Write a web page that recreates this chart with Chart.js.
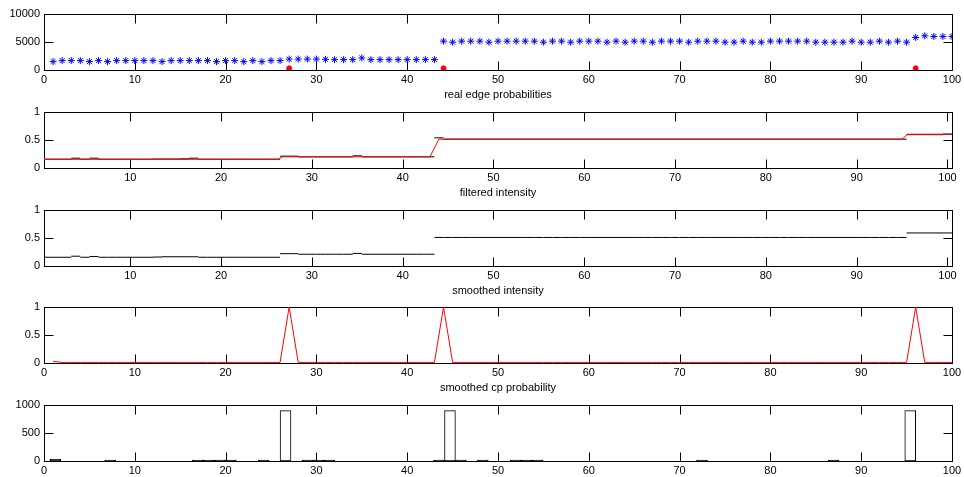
<!DOCTYPE html>
<html>
<head>
<meta charset="utf-8">
<script src="https://cdn.jsdelivr.net/npm/chart.js@4.4.1/dist/chart.umd.min.js"></script>
<style>
    html, body { margin: 0; padding: 0; background: #fff; }
    #fig { position: relative; width: 964px; height: 477px; overflow: hidden; background: #fff; }
    #fig canvas { position: absolute; left: 0; }
</style>
</head>
<body>
<div id="fig">
    <canvas id="p1" width="964" height="112" style="top:0px"></canvas>
    <canvas id="p2" width="964" height="112" style="top:98px"></canvas>
    <canvas id="p3" width="964" height="112" style="top:196px"></canvas>
    <canvas id="p4" width="964" height="112" style="top:293px"></canvas>
    <canvas id="p5" width="964" height="112" style="top:391px"></canvas>
</div>
<script>
// sample index (pixel number along the signal)
const samples = [
    1, 2, 3, 4, 5, 6, 7, 8, 9, 10, 11, 12, 13, 14, 15, 16, 17, 18, 19, 20,
    21, 22, 23, 24, 25, 26, 27, 28, 29, 30, 31, 32, 33, 34, 35, 36, 37, 38, 39, 40,
    41, 42, 43, 44, 45, 46, 47, 48, 49, 50, 51, 52, 53, 54, 55, 56, 57, 58, 59, 60,
    61, 62, 63, 64, 65, 66, 67, 68, 69, 70, 71, 72, 73, 74, 75, 76, 77, 78, 79, 80,
    81, 82, 83, 84, 85, 86, 87, 88, 89, 90, 91, 92, 93, 94, 95, 96, 97, 98, 99, 100
];

// panel 1: real edge probabilities
const edgeProb = [
    1500, 1680, 1680, 1680, 1500, 1680, 1500, 1680, 1680, 1680,
    1680, 1680, 1500, 1680, 1680, 1680, 1680, 1680, 1500, 1680,
    1680, 1500, 1680, 1500, 1680, 1680, 1950, 1950, 1950, 1950,
    1900, 1850, 1850, 1850, 2150, 1850, 1850, 1850, 1850, 1850,
    1850, 1850, 1850, 5150, 4970, 5150, 5150, 5150, 4970, 5150,
    5150, 5150, 5150, 5150, 4970, 5150, 5150, 4970, 5150, 5150,
    5150, 4970, 5150, 4970, 5150, 5150, 4970, 5150, 5150, 5150,
    4970, 5150, 5150, 5150, 4970, 4970, 5150, 4970, 4970, 5150,
    5150, 5150, 5150, 5150, 4970, 4970, 4970, 4970, 5150, 4970,
    4970, 5150, 4970, 5150, 4970, 5810, 6100, 5990, 5990, 5990
];
const edgeX = [27, 44, 96];
const edgeY = [300, 300, 300];

// panel 2: filtered intensity (black per-pixel) and fitted level (red)
const filtered = [
    0.155, 0.155, 0.155, 0.175, 0.155, 0.175, 0.155, 0.155, 0.155, 0.155,
    0.155, 0.155, 0.160, 0.160, 0.160, 0.165, 0.175, 0.155, 0.155, 0.155,
    0.155, 0.155, 0.155, 0.155, 0.155, 0.155, 0.210, 0.210, 0.200, 0.200,
    0.200, 0.200, 0.200, 0.200, 0.220, 0.200, 0.200, 0.200, 0.200, 0.200,
    0.200, 0.200, 0.200, 0.540, 0.515, 0.515, 0.515, 0.515, 0.515, 0.515,
    0.515, 0.515, 0.515, 0.515, 0.515, 0.515, 0.515, 0.515, 0.515, 0.515,
    0.515, 0.515, 0.515, 0.515, 0.515, 0.515, 0.515, 0.515, 0.515, 0.515,
    0.515, 0.515, 0.515, 0.515, 0.515, 0.515, 0.515, 0.515, 0.515, 0.515,
    0.515, 0.515, 0.515, 0.515, 0.515, 0.515, 0.515, 0.515, 0.515, 0.515,
    0.515, 0.515, 0.515, 0.515, 0.515, 0.600, 0.600, 0.600, 0.600, 0.605
];
const fitX = [0.5, 26.3, 26.8, 43, 44, 95, 95.6, 100.5];
const fitY = [0.155, 0.155, 0.2, 0.2, 0.515, 0.515, 0.6, 0.6];

// panel 3: smoothed intensity
const smoothed = [
    0.156, 0.156, 0.156, 0.175, 0.156, 0.170, 0.156, 0.156, 0.156, 0.156,
    0.156, 0.156, 0.160, 0.165, 0.165, 0.165, 0.165, 0.156, 0.156, 0.156,
    0.156, 0.156, 0.156, 0.156, 0.156, 0.156, 0.220, 0.220, 0.210, 0.210,
    0.210, 0.210, 0.210, 0.210, 0.225, 0.210, 0.210, 0.210, 0.210, 0.210,
    0.210, 0.210, 0.210, 0.510, 0.510, 0.510, 0.510, 0.510, 0.510, 0.510,
    0.510, 0.510, 0.510, 0.510, 0.510, 0.510, 0.510, 0.510, 0.510, 0.510,
    0.510, 0.510, 0.510, 0.510, 0.510, 0.510, 0.510, 0.510, 0.510, 0.510,
    0.510, 0.510, 0.510, 0.510, 0.510, 0.510, 0.510, 0.510, 0.510, 0.510,
    0.510, 0.510, 0.510, 0.510, 0.510, 0.510, 0.510, 0.510, 0.510, 0.510,
    0.510, 0.510, 0.510, 0.510, 0.510, 0.590, 0.590, 0.590, 0.590, 0.590
];

// panel 4: smoothed change-point probability
const cpProb = [
    0.03, 0.01, 0.01, 0.01, 0.01, 0.01, 0.01, 0.01, 0.01, 0.01,
    0.01, 0.01, 0.01, 0.01, 0.01, 0.01, 0.01, 0.01, 0.01, 0.01,
    0.01, 0.01, 0.01, 0.01, 0.01, 0.01, 1.00, 0.01, 0.01, 0.01,
    0.01, 0.01, 0.01, 0.01, 0.01, 0.01, 0.01, 0.01, 0.01, 0.01,
    0.01, 0.01, 0.01, 1.00, 0.01, 0.01, 0.01, 0.01, 0.01, 0.01,
    0.01, 0.01, 0.01, 0.01, 0.01, 0.01, 0.01, 0.01, 0.01, 0.01,
    0.01, 0.01, 0.01, 0.01, 0.01, 0.01, 0.01, 0.01, 0.01, 0.01,
    0.01, 0.01, 0.01, 0.01, 0.01, 0.01, 0.01, 0.01, 0.01, 0.01,
    0.01, 0.01, 0.01, 0.01, 0.01, 0.01, 0.01, 0.01, 0.01, 0.01,
    0.01, 0.01, 0.01, 0.01, 0.01, 1.00, 0.01, 0.01, 0.01, 0.01
];

// panel 5: histogram (non-empty bins only)
const histCenters = [1.25, 7.29, 16.94, 18.15, 19.36, 20.57, 24.19, 26.60, 29.01, 30.22,
    31.43, 43.50, 44.71, 45.91, 48.33, 51.95, 53.16, 54.36, 72.47, 86.95, 95.40];
const histCounts = [30, 18, 18, 18, 18, 18, 18, 900, 18, 18,
    18, 18, 900, 18, 18, 18, 18, 18, 18, 18, 900];

// tick values
const xTicksFull = [0, 10, 20, 30, 40, 50, 60, 70, 80, 90, 100];
const xTicksInner = [10, 20, 30, 40, 50, 60, 70, 80, 90, 100];
const yTicksEdge = [0, 5000, 10000];
const yTicksUnit = [0, 0.5, 1];
const yTicksHist = [0, 500, 1000];

const FONT = "'Liberation Sans', Arial, Helvetica, sans-serif";
const TICK_LEN = 9;

Chart.defaults.font.family = FONT;
Chart.defaults.font.size = 11;
Chart.defaults.color = '#000';

// MATLAB-style box with inward ticks on all four sides
const matlabBox = {
    id: 'matlabBox',
    beforeDatasetsDraw(chart) {
        const ctx = chart.ctx;
        const a = chart.chartArea;
        const xs = chart.scales.x;
        const ys = chart.scales.y;
        const L = a.left + 0.5, R = a.right + 0.5, T = a.top + 0.5, B = a.bottom + 0.5;
        ctx.save();
        ctx.strokeStyle = '#000';
        ctx.lineWidth = 1;
        ctx.strokeRect(L, T, R - L, B - T);
        ctx.beginPath();
        xs.ticks.forEach(function (t) {
            const px = Math.round(xs.getPixelForValue(t.value)) + 0.5;
            ctx.moveTo(px, B); ctx.lineTo(px, B - TICK_LEN);
            ctx.moveTo(px, T); ctx.lineTo(px, T + TICK_LEN);
        });
        ys.ticks.forEach(function (t) {
            const py = Math.round(ys.getPixelForValue(t.value)) + 0.5;
            ctx.moveTo(L, py); ctx.lineTo(L + TICK_LEN, py);
            ctx.moveTo(R, py); ctx.lineTo(R - TICK_LEN, py);
        });
        ctx.stroke();
        ctx.restore();
    }
};

function points(xv, yv) {
    return xv.map(function (x, i) { return { x: x, y: yv[i] }; });
}

// one short horizontal segment per pixel, broken between pixels
function pixelSegments(xv, yv) {
    const out = [];
    xv.forEach(function (x, i) {
        out.push({ x: x - 0.5, y: yv[i] });
        out.push({ x: x + 0.5, y: yv[i] });
        out.push({ x: x + 0.5, y: null });
    });
    return out;
}

function makePanel(id, type, datasets, xr, xTicks, yr, yTicks, title) {
    const ctx = document.getElementById(id).getContext('2d');
    return new Chart(ctx, {
        type: type,
        data: { datasets: datasets },
        plugins: [matlabBox],
        options: {
            responsive: false,
            animation: false,
            layout: { padding: { top: 14, right: 12, bottom: 10, left: 0 } },
            plugins: { legend: { display: false }, tooltip: { enabled: false } },
            elements: { line: { tension: 0 } },
            scales: {
                x: {
                    type: 'linear',
                    min: xr[0],
                    max: xr[1],
                    offset: false,
                    grid: { display: false, drawTicks: false },
                    border: { display: false },
                    afterBuildTicks: function (s) { s.ticks = xTicks.map(function (v) { return { value: v }; }); },
                    afterFit: function (s) { s.height = 32; s.paddingLeft = 0; s.paddingRight = 0; },
                    ticks: {
                        padding: 3,
                        maxRotation: 0,
                        autoSkip: false,
                        callback: function (v) { return String(v); }
                    },
                    title: {
                        display: !!title,
                        text: title || '',
                        padding: { top: 0, bottom: 0 }
                    }
                },
                y: {
                    type: 'linear',
                    min: yr[0],
                    max: yr[1],
                    grid: { display: false, drawTicks: false },
                    border: { display: false },
                    afterBuildTicks: function (s) { s.ticks = yTicks.map(function (v) { return { value: v }; }); },
                    afterFit: function (s) { s.width = 44; s.paddingTop = 0; s.paddingBottom = 0; },
                    ticks: {
                        padding: 4,
                        callback: function (v) { return String(v); }
                    }
                }
            }
        }
    });
}

makePanel('p1', 'scatter', [
    {
        data: points(edgeX, edgeY),
        pointStyle: 'circle',
        pointRadius: 2.5,
        backgroundColor: '#ff0000',
        borderColor: '#ff0000',
        borderWidth: 1
    },
    {
        data: points(samples, edgeProb),
        pointStyle: 'star',
        pointRadius: 3.5,
        borderColor: '#0000ff',
        backgroundColor: '#0000ff',
        borderWidth: 1
    }
], [0, 100], xTicksFull, [0, 10000], yTicksEdge, 'real edge probabilities');

makePanel('p2', 'line', [
    {
        data: points(fitX, fitY),
        borderColor: '#ff0000',
        borderWidth: 1,
        pointRadius: 0
    },
    {
        data: pixelSegments(samples, filtered),
        borderColor: '#555555',
        borderWidth: 1.5,
        pointRadius: 0,
        spanGaps: false
    }
], [0.5, 100.5], xTicksInner, [0, 1], yTicksUnit, 'filtered intensity');

makePanel('p3', 'line', [
    {
        data: pixelSegments(samples, smoothed),
        borderColor: '#000000',
        borderWidth: 1,
        pointRadius: 0,
        spanGaps: false
    }
], [0.5, 100.5], xTicksInner, [0, 1], yTicksUnit, 'smoothed intensity');

makePanel('p4', 'line', [
    {
        data: points(samples, cpProb),
        borderColor: '#ff0000',
        borderWidth: 1,
        pointRadius: 0
    }
], [0, 100], xTicksFull, [0, 1], yTicksUnit, 'smoothed cp probability');

makePanel('p5', 'bar', [
    {
        data: points(histCenters, histCounts),
        // short bars read as a solid dark line sitting on the axis
        backgroundColor: function (c) { return c.raw && c.raw.y < 100 ? '#000000' : '#ffffff'; },
        borderColor: '#000000',
        borderWidth: 1,
        borderSkipped: false,
        barPercentage: 1,
        categoryPercentage: 1
    }
], [0, 100], xTicksFull, [0, 1000], yTicksHist, '');
</script>
</body>
</html>
